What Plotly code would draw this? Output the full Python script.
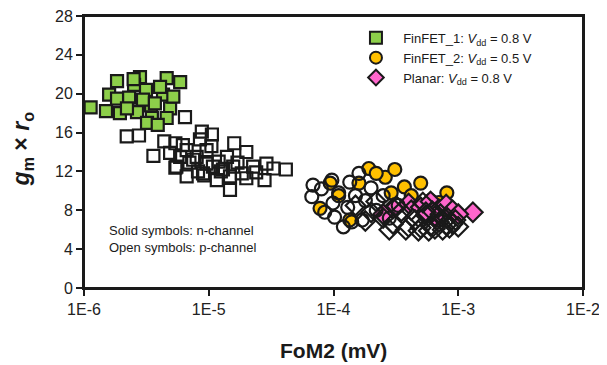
import plotly.graph_objects as go

# FinFET_1 (Vdd = 0.8 V)
fin1_n_x = [1.13e-6, 1.84e-6, 2.81e-6, 4.6e-6, 5.9e-6, 1.59e-6, 1.84e-6, 2.3e-6, 1.94e-6, 2.52e-6,
            3.14e-6, 4.3e-6, 3.45e-6, 4.9e-6, 2.97e-6, 3.5e-6, 2.66e-6, 4.07e-6, 4.6e-6, 2.21e-6,
            5.2e-6, 1.5e-6, 3.2e-6, 3.9e-6, 2.5e-6, 3.7e-6]
fin1_n_y = [18.6, 21.3, 21.7, 21.6, 21.2, 19.9, 19.5, 19.6, 18.0, 20.9,
            20.4, 19.9, 18.8, 18.5, 19.4, 17.5, 18.1, 20.7, 17.5, 18.5,
            19.7, 18.2, 17.0, 16.8, 21.5, 19.0]
fin1_p_x = [2.2e-6, 2.76e-6, 3.6e-6, 4.4e-6, 6.45e-6, 8.8e-6, 1.06e-5, 8.5e-6, 5.4e-6, 5.5e-6,
            7.5e-6, 6.65e-6, 9.0e-6, 1.08e-5, 1.6e-5, 2.0e-5, 1.4e-5, 1.48e-5, 1.48e-5, 1.16e-5,
            1.84e-5, 2.27e-5, 2.9e-5, 2.8e-5, 3.3e-5, 4.15e-5, 2.0e-5, 5.4e-6, 4.9e-6, 9.6e-6,
            6.65e-6, 8.0e-6, 5.9e-6, 9.6e-6, 1.3e-5, 1.57e-5, 7.0e-6, 8.2e-6, 1.2e-5, 1.05e-5,
            6.2e-6, 1.7e-5, 2.4e-5, 9.2e-6, 1.25e-5]
fin1_p_y = [15.6, 15.7, 13.6, 15.1, 17.6, 16.1, 15.8, 15.3, 14.9, 12.5,
            13.2, 11.5, 11.8, 12.5, 14.9, 14.0, 13.5, 11.5, 10.1, 11.1,
            11.8, 12.5, 12.8, 11.1, 12.3, 12.2, 11.3, 12.4, 13.9, 14.2,
            14.2, 13.5, 13.5, 12.8, 12.2, 12.5, 12.9, 12.0, 13.0, 14.6,
            14.7, 12.9, 11.9, 11.6, 12.0]

# FinFET_2 (Vdd = 0.5 V)
fin2_n_x = [1.92e-4, 2.6e-4, 3.1e-4, 5.0e-4, 8.1e-4, 7.8e-5, 1.35e-4, 9.4e-5, 1.6e-4, 2.2e-4,
            3.7e-4, 4.2e-4, 6.0e-4, 1.1e-4, 2.9e-4, 7.0e-4]
fin2_n_y = [12.3, 11.4, 12.2, 10.8, 9.8, 8.2, 7.0, 10.8, 10.8, 11.8,
            10.4, 9.5, 9.0, 9.5, 9.8, 8.8]
fin2_p_x = [6.85e-5, 6.7e-5, 9.7e-5, 1.35e-4, 1.2e-4, 1.02e-4, 9.9e-5, 1.6e-4, 2.2e-4, 8.0e-5,
            1.1e-4, 1.5e-4, 1.3e-4, 1.8e-4, 2.5e-4, 2.8e-4, 1.7e-4, 3.3e-4, 2.0e-4, 8.5e-5,
            1.4e-4]
fin2_p_y = [10.6, 9.4, 11.1, 10.9, 6.3, 7.3, 8.75, 11.8, 8.0, 10.2,
            9.8, 9.5, 8.3, 9.0, 9.5, 7.2, 7.0, 8.5, 10.3, 7.8,
            6.8]

# Planar (Vdd = 0.8 V)
pl_n_x = [1.31e-3, 4.0e-4, 5.0e-4, 6.0e-4, 7.0e-4, 8.0e-4, 9.0e-4, 1.0e-3, 3.0e-4, 2.5e-4,
          6.5e-4, 5.5e-4]
pl_n_y = [7.8, 8.7, 8.3, 8.9, 8.1, 8.6, 8.0, 7.6, 8.2, 7.6,
          7.4, 7.8]
pl_p_x = [1.5e-4, 2.0e-4, 2.5e-4, 3.0e-4, 3.5e-4, 4.0e-4, 4.5e-4, 5.0e-4, 5.5e-4, 6.0e-4,
          6.5e-4, 7.0e-4, 7.5e-4, 8.0e-4, 8.5e-4, 9.0e-4, 1.0e-3, 2.2e-4, 3.2e-4, 4.2e-4,
          5.2e-4, 6.2e-4, 7.2e-4, 8.2e-4, 9.5e-4, 1.8e-4, 2.8e-4, 3.8e-4, 4.8e-4, 5.8e-4]
pl_p_y = [8.5, 7.8, 7.2, 6.6, 7.9, 6.3, 7.0, 6.2, 7.5, 6.4,
          6.1, 6.8, 6.0, 6.5, 6.2, 6.6, 6.3, 8.9, 8.4, 8.0,
          8.8, 7.9, 7.6, 7.2, 7.0, 6.9, 6.0, 6.0, 5.9, 5.9]

x_tickvals = [1e-6, 1e-5, 1e-4, 1e-3, 1e-2]
x_ticktext = ["1E-6", "1E-5", "1E-4", "1E-3", "1E-2"]
y_tickvals = [0, 4, 8, 12, 16, 20, 24, 28]

names = ["\u00a0\u00a0FinFET_1: <i>V</i><sub>dd</sub> = 0.8 V",
         "\u00a0\u00a0FinFET_2: <i>V</i><sub>dd</sub> = 0.5 V",
         "\u00a0\u00a0Planar: <i>V</i><sub>dd</sub> = 0.8 V"]

EDGE = "#1a1a1a"
LW = 2.2

fig = go.Figure()

def add(x, y, symbol, size, color, name, show):
    fig.add_trace(go.Scatter(
        x=x, y=y, mode="markers", name=name, showlegend=show,
        marker=dict(symbol=symbol, size=size, color=color,
                    line=dict(color=EDGE, width=LW)),
    ))

add(fin1_n_x, fin1_n_y, "square", 12, "#8DCF4A", names[0], True)
add(fin2_n_x, fin2_n_y, "circle", 13, "#FFC000", names[1], True)
add(pl_n_x, pl_n_y, "diamond", 15, "#FF66CC", names[2], True)
add(fin1_p_x, fin1_p_y, "square-open", 12, EDGE, "FinFET_1 p", False)
add(fin2_p_x, fin2_p_y, "circle-open", 13, EDGE, "FinFET_2 p", False)
add(pl_p_x, pl_p_y, "diamond-open", 15, EDGE, "Planar p", False)

fig.update_layout(
    width=607, height=365,
    margin=dict(l=76, r=32, t=8, b=85, autoexpand=False),
    paper_bgcolor="white", plot_bgcolor="white",
    font=dict(family="Liberation Sans, Arial, sans-serif", color="#1a1a1a"),
    showlegend=True,
    legend=dict(x=0.545, y=0.975, xanchor="left", yanchor="top",
                bgcolor="rgba(0,0,0,0)", font=dict(size=13, color="#1a1a1a"),
                tracegroupgap=0, itemsizing="constant"),
    xaxis=dict(type="log", range=[-6, -2], tickvals=x_tickvals, ticktext=x_ticktext,
               automargin=False, ticklabeloverflow="allow",
               showgrid=False, zeroline=False, showline=True, linecolor=EDGE, linewidth=2,
               mirror=True, ticks="outside", ticklen=6, tickwidth=2, tickcolor=EDGE,
               tickfont=dict(size=16, color="#222222")),
    yaxis=dict(range=[0, 28], tickvals=y_tickvals, automargin=False, ticklabeloverflow="allow",
               showgrid=False, zeroline=False, showline=True, linecolor=EDGE, linewidth=2,
               mirror=True, ticks="outside", ticklen=6, tickwidth=2, tickcolor=EDGE,
               tickfont=dict(size=16, color="#222222")),
    shapes=[dict(type="rect", xref="paper", yref="paper", x0=0, x1=1, y0=0, y1=1,
                 line=dict(color=EDGE, width=2), fillcolor="rgba(0,0,0,0)", layer="above")],
    annotations=[
        dict(xref="paper", yref="paper", x=0.046, y=0.18, xanchor="left", yanchor="middle",
             align="left", showarrow=False, font=dict(size=13, color="#1a1a1a"),
             text="Solid symbols: n-channel<br>Open symbols: p-channel"),
        dict(xref="paper", yref="paper", x=0.5, y=-0.228, xanchor="center", yanchor="middle",
             showarrow=False, font=dict(size=21, color="#1a1a1a"),
             text="<b>FoM2 (mV)</b>"),
        dict(xref="paper", yref="paper", x=-0.124, y=0.51, xanchor="center", yanchor="middle",
             showarrow=False, textangle=-90, font=dict(size=23, color="#1a1a1a"),
             text="<b><i>g</i><sub>m</sub> × <i>r</i><sub>o</sub></b>"),
    ],
)

fig.write_html("out.html")
